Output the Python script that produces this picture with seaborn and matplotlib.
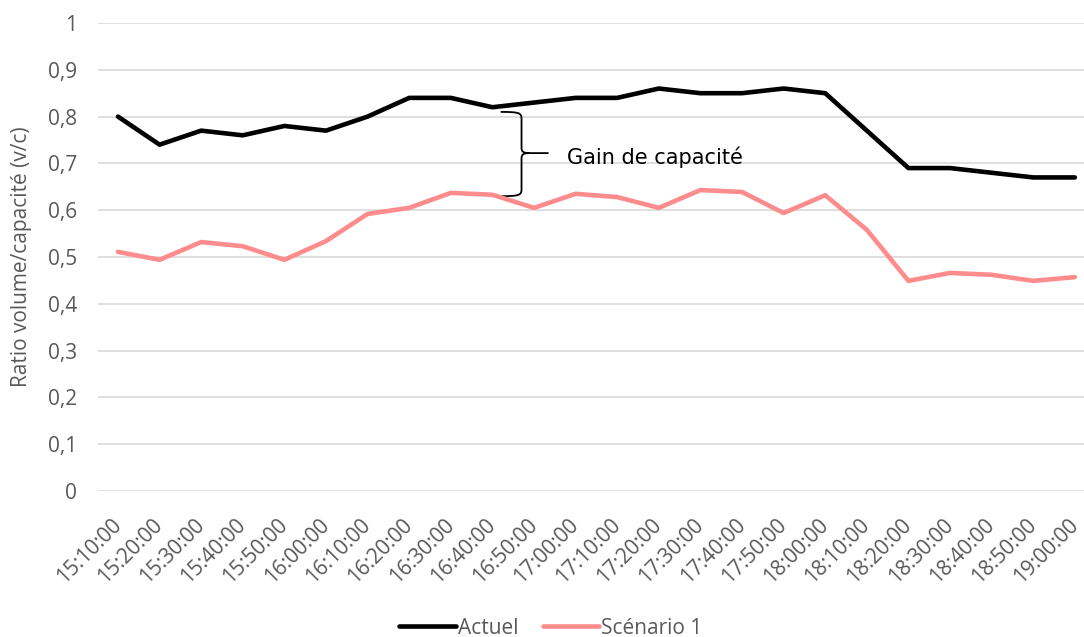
import pandas as pd
import matplotlib.pyplot as plt
import seaborn as sns
from matplotlib.path import Path
from matplotlib.patches import PathPatch

plt.switch_backend('Agg')

# Data
times = ["15:10:00", "15:20:00", "15:30:00", "15:40:00", "15:50:00", "16:00:00",
         "16:10:00", "16:20:00", "16:30:00", "16:40:00", "16:50:00", "17:00:00",
         "17:10:00", "17:20:00", "17:30:00", "17:40:00", "17:50:00", "18:00:00",
         "18:10:00", "18:20:00", "18:30:00", "18:40:00", "18:50:00", "19:00:00"]
actuel = [0.80, 0.74, 0.77, 0.76, 0.78, 0.77, 0.80, 0.84, 0.84, 0.82, 0.83, 0.84,
          0.84, 0.86, 0.85, 0.85, 0.86, 0.85, 0.77, 0.69, 0.69, 0.68, 0.67, 0.67]
scenario1 = [0.511, 0.494, 0.532, 0.523, 0.494, 0.534, 0.592, 0.605, 0.637, 0.633, 0.605, 0.635,
             0.628, 0.605, 0.643, 0.639, 0.594, 0.632, 0.558, 0.449, 0.466, 0.462, 0.449, 0.457]
series_names = ["Actuel", "Scénario 1"]
y_ticks = [0, 0.1, 0.2, 0.3, 0.4, 0.5, 0.6, 0.7, 0.8, 0.9, 1.0]

df = pd.DataFrame({
    "x": list(range(len(times))) * 2,
    "ratio": actuel + scenario1,
    "serie": [series_names[0]] * len(times) + [series_names[1]] * len(times),
})

sns.set_theme(style="white")
plt.rcParams['font.family'] = ['Open Sans', 'DejaVu Sans']
grey = "#595959"

fig = plt.figure(figsize=(10.84, 6.37), dpi=100)
ax = fig.add_axes([98 / 1084, (637 - 491) / 637, 986 / 1084, 468 / 637])

sns.lineplot(data=df, x="x", y="ratio", hue="serie", ax=ax,
             palette={"Actuel": "#000000", "Scénario 1": "#FF8C8C"},
             linewidth=3.3, legend=True)
for line in ax.lines:
    line.set_solid_capstyle("round")

ax.set_xlim(-0.48, 23.22)
ax.set_ylim(0, 1)
ax.set_yticks(y_ticks)
ax.set_yticklabels([("%g" % v).replace(".", ",") for v in y_ticks], color=grey, fontsize=15)
ax.set_xticks(range(len(times)))
ax.set_xticklabels(times, rotation=45, ha="right", va="center", rotation_mode="anchor",
                   color=grey, fontsize=15)
ax.tick_params(axis="y", length=0, pad=15)
ax.tick_params(axis="x", length=0, pad=22)
ax.set_xlabel("")
ax.set_ylabel("Ratio volume/capacité (v/c)", color=grey, fontsize=15)
ax.yaxis.set_label_coords(-66 / 986, 0.5)
ax.yaxis.grid(True, color="#d9d9d9", linewidth=1.2)
ax.set_axisbelow(True)
for s in ax.spines.values():
    s.set_visible(False)

# curly brace showing the capacity gain
xl, xv, xt = 9.2, 9.7, 10.35
yt, ym, yb = 0.81, 0.722, 0.63
verts = [(xl, yt), (xv - 0.05, yt), (xv, yt - 0.002), (xv, yt - 0.015),
         (xv, ym + 0.012),
         (xv, ym + 0.002), (xv + 0.05, ym), (xv + 0.2, ym),
         (xt, ym),
         (xv + 0.2, ym), (xv + 0.05, ym), (xv, ym - 0.002), (xv, ym - 0.012),
         (xv, yb + 0.015),
         (xv, yb + 0.002), (xv - 0.05, yb), (xl, yb)]
codes = [Path.MOVETO, Path.CURVE4, Path.CURVE4, Path.CURVE4,
         Path.LINETO,
         Path.CURVE4, Path.CURVE4, Path.CURVE4,
         Path.LINETO,
         Path.MOVETO, Path.CURVE4, Path.CURVE4, Path.CURVE4,
         Path.LINETO,
         Path.CURVE4, Path.CURVE4, Path.CURVE4]
ax.add_patch(PathPatch(Path(verts, codes), fill=False, edgecolor="black", linewidth=1.3))
ax.text(10.8, 0.713, "Gain de capacité", fontsize=15, color="black",
        family=["DejaVu Sans"], va="center", ha="left")

handles, labels = ax.get_legend_handles_labels()
ax.legend(handles, labels, loc="center", bbox_to_anchor=(551 / 1084, 9 / 637),
          bbox_transform=fig.transFigure, ncol=2, frameon=False, fontsize=15,
          labelcolor=grey, handlelength=2.7, handletextpad=0.1, columnspacing=1.2)

fig.savefig("out.png", dpi=100)
